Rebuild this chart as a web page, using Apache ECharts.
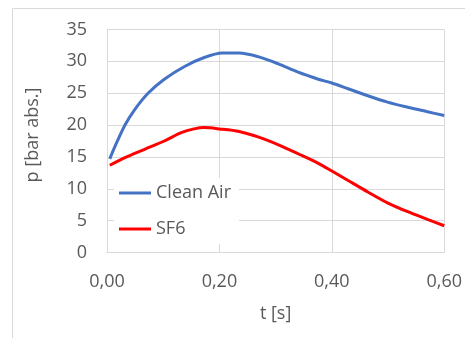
<!DOCTYPE html>
<html>
<head>
<meta charset="utf-8">
<script src="https://cdn.jsdelivr.net/npm/echarts@6/dist/echarts.min.js"></script>
<style>html,body{margin:0;padding:0;background:#fff;}#c{width:465px;height:338px;}</style>
</head>
<body>
<div id="c"></div>
<script>
var seriesNames = ['Clean Air', 'SF6'];
var timeAir = [0.005, 0.014, 0.032, 0.049, 0.073, 0.102, 0.138, 0.173, 0.205, 0.235, 0.27, 0.305, 0.34, 0.376, 0.4, 0.429, 0.464, 0.499, 0.535, 0.57, 0.6];
var pAir = [14.7, 16.6, 20.0, 22.4, 25.0, 27.2, 29.2, 30.6, 31.3, 31.3, 30.7, 29.6, 28.3, 27.2, 26.6, 25.7, 24.6, 23.6, 22.8, 22.1, 21.5];
var timeSF6 = [0.005, 0.032, 0.067, 0.102, 0.132, 0.155, 0.173, 0.2, 0.235, 0.27, 0.305, 0.34, 0.376, 0.4, 0.429, 0.464, 0.499, 0.535, 0.57, 0.6];
var pSF6 = [13.7, 14.9, 16.2, 17.5, 18.8, 19.4, 19.6, 19.4, 19.0, 18.1, 16.9, 15.5, 14.0, 12.8, 11.3, 9.5, 7.8, 6.4, 5.2, 4.2];
var xTitle = 't [s]';
var yTitle = 'p [bar abs.]';

function pairs(xs, ys) { return xs.map(function (x, i) { return [x, ys[i]]; }); }

var font = '"Open Sans", sans-serif';
var txt = '#595959';
var gridC = '#d9d9d9';
var chart = echarts.init(document.getElementById('c'), null, {renderer: 'canvas'});
chart.setOption({
  animation: false,
  backgroundColor: '#fff',
  graphic: [
    {type: 'rect', shape: {x: 12.5, y: 8.5, width: 480, height: 360}, style: {fill: 'none', stroke: gridC, lineWidth: 1}, z: 0},
    {type: 'text', x: 33, y: 135, rotation: Math.PI / 2, style: {text: yTitle, font: '18px ' + font, fill: txt, align: 'center', verticalAlign: 'middle'}}
  ],
  grid: {left: 107, right: 18, top: 29.5, bottom: 85.5},
  legend: {
    orient: 'vertical', left: 114, top: 178,
    padding: [5, 8, 5, 5], itemGap: 16,
    backgroundColor: '#fff',
    icon: 'rect', itemWidth: 32, itemHeight: 3,
    textStyle: {fontFamily: font, fontSize: 18, color: txt, lineHeight: 20},
    data: seriesNames
  },
  xAxis: {
    type: 'value', min: 0, max: 0.6, interval: 0.2,
    name: xTitle, nameLocation: 'middle', nameGap: 52,
    nameTextStyle: {fontFamily: font, fontSize: 18, color: txt},
    axisLine: {show: true, lineStyle: {color: gridC, width: 1}},
    axisTick: {show: false},
    axisLabel: {fontFamily: font, fontSize: 18, color: txt, margin: 20, formatter: function (v) { return v.toFixed(2).replace('.', ','); }},
    splitLine: {show: true, lineStyle: {color: gridC, width: 1}}
  },
  yAxis: {
    type: 'value', min: 0, max: 35, interval: 5,
    axisLine: {show: true, lineStyle: {color: gridC, width: 1}},
    axisTick: {show: false},
    axisLabel: {fontFamily: font, fontSize: 18, color: txt, margin: 20},
    splitLine: {show: true, lineStyle: {color: gridC, width: 1}}
  },
  series: [
    {name: seriesNames[0], type: 'line', smooth: 0.3, showSymbol: false, symbol: 'none', color: '#4472C4', lineStyle: {width: 3, color: '#4472C4'}, data: pairs(timeAir, pAir), z: 3},
    {name: seriesNames[1], type: 'line', smooth: 0.3, showSymbol: false, symbol: 'none', color: '#FF0000', lineStyle: {width: 3, color: '#FF0000'}, data: pairs(timeSF6, pSF6), z: 3}
  ]
});
</script>
</body>
</html>
